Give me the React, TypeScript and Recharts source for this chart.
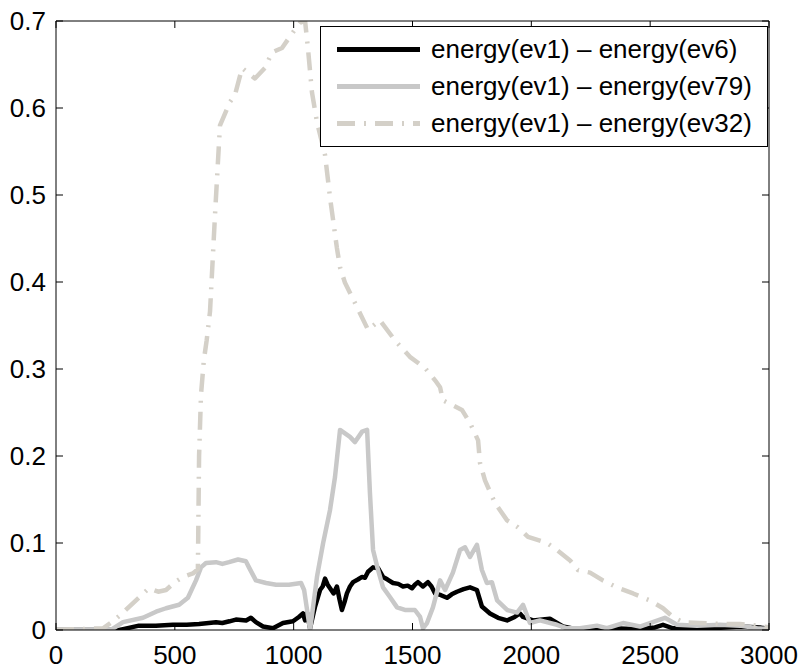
import React from 'react';
import { LineChart, Line, XAxis, YAxis } from 'recharts';

// [x, value] pairs
const ev6: [number, number][] = [
  [0, 0], [265, 0], [282, 0.001], [349, 0.005], [420, 0.005], [492, 0.006], [550, 0.006], [602, 0.007],
  [673, 0.009], [700, 0.008], [730, 0.01], [757, 0.012], [800, 0.011], [820, 0.014], [841, 0.009],
  [871, 0.004], [913, 0.002], [955, 0.008], [997, 0.01], [1022, 0.015], [1039, 0.019], [1048, 0.011],
  [1056, 0.02], [1069, 0.002], [1090, 0.027], [1111, 0.046], [1122, 0.05], [1132, 0.059], [1143, 0.052],
  [1153, 0.048], [1168, 0.042], [1182, 0.05], [1193, 0.035], [1203, 0.023], [1214, 0.032], [1224, 0.042],
  [1237, 0.05], [1250, 0.055], [1270, 0.058], [1288, 0.061], [1300, 0.06], [1313, 0.067], [1334, 0.072],
  [1355, 0.071], [1376, 0.061], [1395, 0.058], [1418, 0.054], [1440, 0.053], [1460, 0.05], [1480, 0.051],
  [1498, 0.048], [1510, 0.052], [1523, 0.055], [1544, 0.05], [1565, 0.055], [1580, 0.05], [1595, 0.042],
  [1620, 0.04], [1645, 0.037], [1665, 0.041], [1687, 0.044], [1715, 0.047], [1742, 0.049], [1771, 0.046],
  [1792, 0.027], [1826, 0.019], [1860, 0.014], [1898, 0.011], [1930, 0.015], [1952, 0.019], [1965, 0.015],
  [2007, 0.011], [2078, 0.013], [2133, 0.004], [2205, 0], [2344, 0.002], [2450, 0.001], [2520, 0.003],
  [2554, 0.006], [2596, 0.002], [2764, 0.002], [2878, 0.004], [2962, 0.003], [3000, 0.001],
];

const ev79: [number, number][] = [
  [0, 0], [231, 0], [282, 0.009], [366, 0.014], [421, 0.021], [463, 0.025], [518, 0.029], [555, 0.037],
  [589, 0.057], [610, 0.072], [631, 0.077], [673, 0.078], [700, 0.076], [728, 0.078], [766, 0.081],
  [799, 0.079], [812, 0.072], [841, 0.057], [884, 0.054], [926, 0.052], [980, 0.052], [1031, 0.054],
  [1044, 0.046], [1069, 0], [1098, 0.061], [1124, 0.1], [1153, 0.138], [1174, 0.176], [1195, 0.23],
  [1216, 0.226], [1237, 0.222], [1258, 0.216], [1288, 0.228], [1309, 0.23], [1321, 0.157], [1334, 0.092],
  [1355, 0.069], [1376, 0.049], [1405, 0.038], [1435, 0.026], [1468, 0.023], [1510, 0.023], [1532, 0.015],
  [1544, 0.002], [1561, 0.008], [1586, 0.026], [1616, 0.057], [1637, 0.046], [1670, 0.066], [1700, 0.092],
  [1721, 0.095], [1742, 0.084], [1771, 0.098], [1792, 0.069], [1813, 0.054], [1834, 0.055], [1856, 0.034],
  [1898, 0.023], [1940, 0.02], [1965, 0.029], [1994, 0.008], [2036, 0.011], [2108, 0.006], [2150, 0.002],
  [2205, 0.002], [2276, 0.005], [2318, 0.002], [2386, 0.008], [2457, 0.004], [2499, 0.008], [2562, 0.014],
  [2613, 0.006], [2697, 0.005], [2794, 0.006], [2878, 0.005], [2950, 0.002], [3000, 0.001],
];

const ev32: [number, number][] = [
  [0, 0], [100, 0.001], [198, 0.002], [240, 0.01], [282, 0.02], [340, 0.035], [391, 0.048], [430, 0.044],
  [463, 0.046], [500, 0.055], [534, 0.061], [576, 0.065], [597, 0.07], [602, 0.2], [610, 0.27], [622, 0.31],
  [634, 0.333], [648, 0.366], [669, 0.477], [690, 0.58], [732, 0.607], [753, 0.615], [783, 0.646],
  [810, 0.64], [837, 0.634], [879, 0.646], [909, 0.664], [951, 0.669], [997, 0.687], [1027, 0.698],
  [1048, 0.7], [1060, 0.669], [1077, 0.618], [1098, 0.584], [1132, 0.546], [1153, 0.497], [1182, 0.439],
  [1195, 0.417], [1216, 0.399], [1258, 0.376], [1313, 0.345], [1363, 0.356], [1426, 0.333], [1489, 0.314],
  [1553, 0.301], [1595, 0.287], [1616, 0.279], [1628, 0.264], [1708, 0.253], [1742, 0.238], [1776, 0.218],
  [1784, 0.192], [1805, 0.172], [1847, 0.146], [1898, 0.126], [1944, 0.118], [1986, 0.107], [2066, 0.1],
  [2108, 0.092], [2163, 0.08], [2196, 0.069], [2247, 0.066], [2301, 0.057], [2360, 0.049], [2428, 0.042],
  [2499, 0.034], [2554, 0.025], [2596, 0.015], [2638, 0.009], [2710, 0.008], [2800, 0.007], [2878, 0.007],
  [2950, 0.005], [3000, 0.003],
];

const xTicks = [0, 500, 1000, 1500, 2000, 2500, 3000];
const yTicks = [0, 0.1, 0.2, 0.3, 0.4, 0.5, 0.6, 0.7];

const seriesNames = ['energy(ev1) \u2013 energy(ev6)', 'energy(ev1) \u2013 energy(ev79)', 'energy(ev1) \u2013 energy(ev32)'];

const FONT = '"Liberation Sans", Arial, Helvetica, sans-serif';
const FS = 26;
const TL = 7;

const series = [
  { name: seriesNames[0], data: ev6, color: '#000000', dash: undefined as string | undefined },
  { name: seriesNames[1], data: ev79, color: '#c8c8c8', dash: undefined as string | undefined },
  { name: seriesNames[2], data: ev32, color: '#d4d0c8', dash: '18 9 2 9' },
];

const toRows = (d: [number, number][]) => d.map(([x, y]) => ({ x, y }));

const fmtY = (v: number) => (v === 0 ? '0' : String(Math.round(v * 10) / 10));

const BottomTick = (p: any) => (
  <g>
    <line x1={p.x} x2={p.x} y1={p.y} y2={p.y - TL} stroke="#000" strokeWidth={1} />
    <text x={p.x} y={p.y + 34} textAnchor="middle" fontSize={FS} fontFamily={FONT} fill="#000">
      {p.payload.value}
    </text>
  </g>
);

const TopTick = (p: any) => (
  <line x1={p.x} x2={p.x} y1={p.y} y2={p.y + TL} stroke="#000" strokeWidth={1} />
);

const LeftTick = (p: any) => (
  <g>
    <line x1={p.x} x2={p.x + TL} y1={p.y} y2={p.y} stroke="#000" strokeWidth={1} />
    <text x={p.x - 10} y={p.y + 9} textAnchor="end" fontSize={FS} fontFamily={FONT} fill="#000">
      {fmtY(p.payload.value)}
    </text>
  </g>
);

const RightTick = (p: any) => (
  <line x1={p.x} x2={p.x - TL} y1={p.y} y2={p.y} stroke="#000" strokeWidth={1} />
);

export default function App() {
  return (
    <div style={{ position: 'absolute', left: 0, top: 0, width: 804, height: 671, background: '#fff' }}>
      <LineChart width={804} height={671} margin={{ top: 20, right: 34, bottom: 0, left: 0 }}>
        <XAxis
          xAxisId="b"
          dataKey="x"
          type="number"
          domain={[0, 3000]}
          ticks={xTicks}
          orientation="bottom"
          height={41}
          tickSize={0}
          tickMargin={0}
          tickLine={false}
          interval={0}
          stroke="#000"
          tick={BottomTick}
          allowDataOverflow
        />
        <XAxis
          xAxisId="t"
          dataKey="x"
          type="number"
          domain={[0, 3000]}
          ticks={xTicks}
          orientation="top"
          height={1}
          tickSize={0}
          tickMargin={0}
          tickLine={false}
          tick={TopTick}
          interval={0}
          stroke="#000"
          allowDataOverflow
        />
        <YAxis
          yAxisId="l"
          type="number"
          domain={[0, 0.7]}
          ticks={yTicks}
          orientation="left"
          width={56}
          tickSize={0}
          tickMargin={0}
          tickLine={false}
          interval={0}
          stroke="#000"
          tick={LeftTick}
          allowDataOverflow
        />
        <YAxis
          yAxisId="r"
          type="number"
          domain={[0, 0.7]}
          ticks={yTicks}
          orientation="right"
          width={1}
          tickSize={0}
          tickMargin={0}
          tickLine={false}
          tick={RightTick}
          interval={0}
          stroke="#000"
          allowDataOverflow
        />
        {series.map((s) => (
          <Line
            key={s.name}
            xAxisId="b"
            yAxisId="l"
            data={toRows(s.data)}
            dataKey="y"
            name={s.name}
            type="linear"
            stroke={s.color}
            strokeWidth={4.5}
            strokeDasharray={s.dash}
            strokeLinejoin="round"
            dot={false}
            activeDot={false}
            isAnimationActive={false}
          />
        ))}
      </LineChart>
      <div
        style={{
          position: 'absolute',
          left: 320,
          top: 26,
          width: 448,
          height: 121,
          boxSizing: 'border-box',
          border: '1.5px solid #000',
          background: '#fff',
          fontFamily: FONT,
          fontSize: FS,
          color: '#000',
        }}
      >
        {series.map((s, i) => (
          <div
            key={s.name}
            style={{ position: 'absolute', left: 0, top: 4 + i * 37, height: 37, display: 'flex', alignItems: 'center', whiteSpace: 'nowrap' }}
          >
            <svg width={110} height={37} style={{ display: 'block' }}>
              <line x1={16} x2={99} y1={18.5} y2={18.5} stroke={s.color} strokeWidth={5} strokeDasharray={s.dash} />
            </svg>
            <span>{s.name}</span>
          </div>
        ))}
      </div>
    </div>
  );
}
